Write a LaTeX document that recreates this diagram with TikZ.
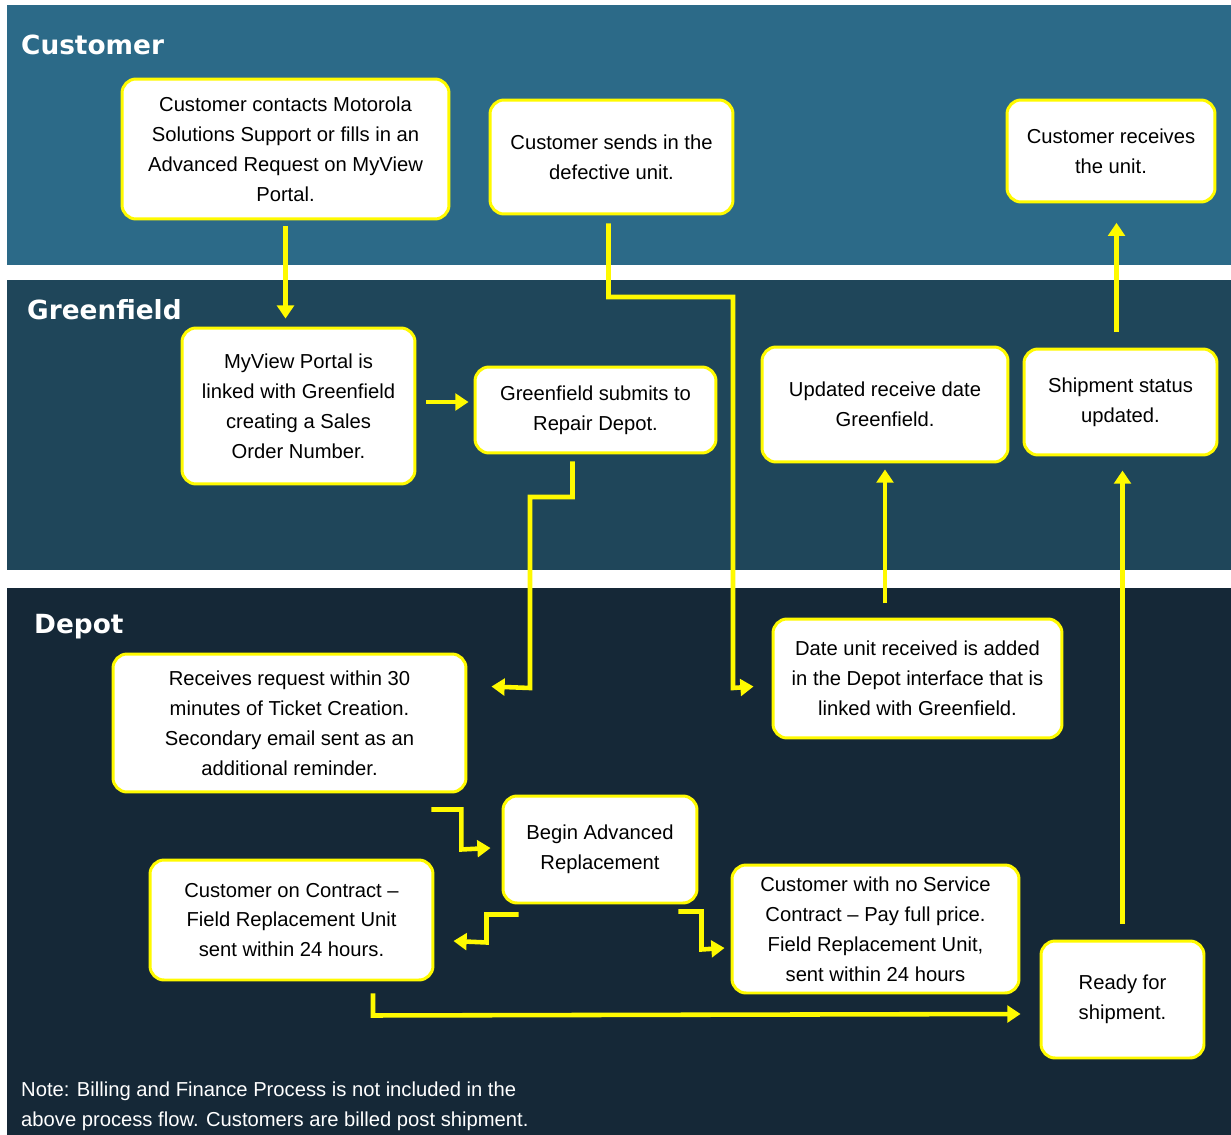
\documentclass[tikz,border=0pt]{standalone}
\usepackage{fontspec}
\setmainfont{Liberation Sans}
\newfontfamily\headfont{DejaVu Sans}
\usetikzlibrary{calc,arrows.meta}

\definecolor{custband}{RGB}{44,106,136}
\definecolor{gfband}{RGB}{31,70,90}
\definecolor{depband}{RGB}{21,40,55}
\definecolor{flowyellow}{RGB}{255,250,0}

\tikzset{
  procbox/.style={rectangle, rounded corners=8pt, draw=flowyellow, line width=1.7pt,
    fill=white, align=center, font=\fontsize{11.5}{17}\selectfont, inner sep=2pt},
  flow/.style={draw=flowyellow, line width=2.6pt, miter limit=4,
    -{Triangle[length=7.5pt,width=9.5pt]}},
  lanelabel/.style={anchor=west, text=white, font=\headfont\bfseries\fontsize{15}{18}\selectfont}
}

\begin{document}
\begin{tikzpicture}[x=0.02cm, y=-0.02cm]
  \useasboundingbox (0,0) rectangle (1231,1135);
  \fill[white] (0,0) rectangle (1231,1135);

  % === bande delle corsie ===
  \fill[custband] (7,5) rectangle (1231,265);
  \fill[gfband] (7,280) rectangle (1231,570);
  \fill[depband] (7,588) rectangle (1231,1135);

  \node[lanelabel] (lcust) at (15,45) {Customer};
  \node[lanelabel] (lgf) at (21,310) {Greenfield};
  \node[lanelabel] (ldep) at (28,627) {Depot};

  % === Customer ===
  \node[procbox, minimum width=6.54cm, minimum height=2.8cm] (cust1) at (285.5,149)
    {Customer contacts Motorola\\Solutions Support or fills in an\\Advanced Request on MyView\\Portal.};
  \node[procbox, minimum width=4.86cm, minimum height=2.28cm] (cust2) at (611.5,157)
    {Customer sends in the\\defective unit.};
  \node[procbox, minimum width=4.16cm, minimum height=2.04cm] (cust3) at (1111,151)
    {Customer receives\\the unit.};

  % === Greenfield ===
  \node[procbox, minimum width=4.66cm, minimum height=3.12cm] (gf1) at (298.5,406)
    {MyView Portal is\\linked with Greenfield\\creating a Sales\\Order Number.};
  \node[procbox, minimum width=4.82cm, minimum height=1.72cm] (gf2) at (595.5,410)
    {Greenfield submits to\\Repair Depot.};
  \node[procbox, minimum width=4.92cm, minimum height=2.3cm] (gf3) at (885,404.5)
    {Updated receive date\\Greenfield.};
  \node[procbox, minimum width=3.86cm, minimum height=2.12cm] (gf4) at (1120.5,402)
    {Shipment status\\updated.};

  % === Depot ===
  \node[procbox, minimum width=7.06cm, minimum height=2.76cm] (dp1) at (289.5,723)
    {Receives request within 30\\minutes of Ticket Creation.\\Secondary email sent as an\\additional reminder.};
  \node[procbox, minimum width=5.78cm, minimum height=2.38cm] (dp2) at (917.5,678.5)
    {Date unit received is added\\in the Depot interface that is\\linked with Greenfield.};
  \node[procbox, minimum width=3.88cm, minimum height=2.14cm] (dp3) at (600,849.5)
    {Begin Advanced\\Replacement};
  \node[procbox, minimum width=5.66cm, minimum height=2.4cm] (dp4) at (291.5,920)
    {Customer on Contract --\\Field Replacement Unit\\sent within 24 hours.};
  \node[procbox, minimum width=5.74cm, minimum height=2.56cm] (dp5) at (875.5,929)
    {Customer with no Service\\Contract -- Pay full price.\\Field Replacement Unit,\\sent within 24 hours};
  \node[procbox, minimum width=3.26cm, minimum height=2.34cm] (dp6) at (1122.5,999.5)
    {Ready for\\shipment.};

  % nota in basso
  \node[anchor=west, align=left, text=white, font=\fontsize{11.5}{17}\selectfont] (note) at (15,1106)
    {Note: Billing and Finance Process is not included in the\\above process flow. Customers are billed post shipment.};

  % === frecce ===
  \draw[flow, shorten <=3.4pt, shorten >=4.5pt] (cust1.south) -- (cust1.south |- gf1.north);
  \draw[flow] ($(gf1.east)+(10,-4)$) -- ($(gf2.west)+(-5,-8)$);
  \draw[flow] ($(gf2.south)+(-23,7)$) |- (530,497) -- (530,688) -- ($(dp1.north east)+(24,34)$);
  \draw[flow] ($(cust2.south)+(-3,8)$) |- (733,297) -- (733,688) -- ($(dp2.north west)+(-18,69)$);
  \draw[flow, shorten <=8pt, shorten >=3.4pt] (gf3.south |- dp2.north) -- (gf3.south);
  \draw[flow, shorten <=9pt, shorten >=8pt] (dp6.north) -- (dp6.north |- gf4.south);
  \draw[flow, shorten <=9pt, shorten >=11pt] ($(gf4.north)+(-4,0)$) -- ($(gf4.north |- cust3.south)+(-4,0)$);
  \draw[flow] ($(dp1.south east)+(-36,16)$) -- ++(30,0) -- ++(0,40) -- ($(dp3.west)+(-11,-1.5)$);
  \draw[flow] ($(dp3.south west)+(17,10)$) -- ++(-32,0) -- ++(0,28) -- ($(dp4.east)+(19,21)$);
  \draw[flow] ($(dp3.south east)+(-20,7)$) -- ++(23,0) -- ++(0,38) -- ($(dp5.west)+(-6,19)$);
  \draw[flow] ($(dp4.south)+(81.5,12)$) -- ++(0,22) -- ($(dp6.west)+(-19,14.5)$);

\end{tikzpicture}
\end{document}
